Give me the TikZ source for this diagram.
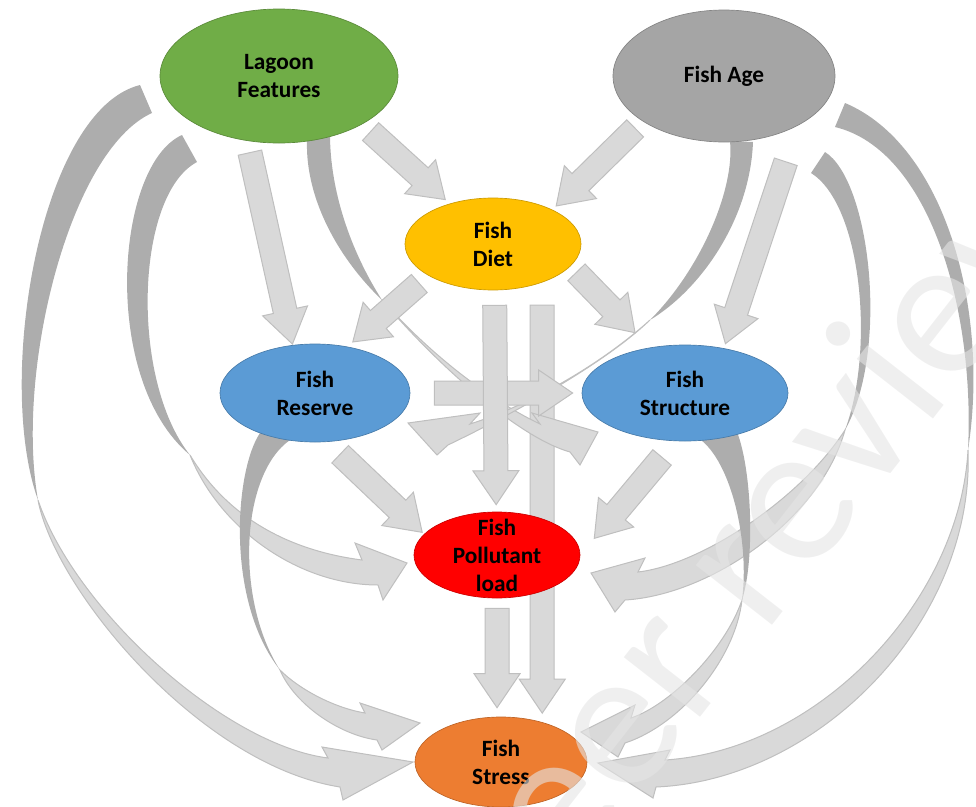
\documentclass[tikz,border=0pt]{standalone}
\usepackage{fontspec}
\setmainfont{Carlito}
\usetikzlibrary{calc, shapes.geometric, backgrounds}

\definecolor{lagoonGreen} {HTML}{70AD47}
\definecolor{ageGray}     {HTML}{A5A5A5}
\definecolor{dietYellow}  {HTML}{FFC000}
\definecolor{fishBlue}    {HTML}{5B9BD5}
\definecolor{loadRed}     {HTML}{FF0000}
\definecolor{stressOrange}{HTML}{ED7D31}
\definecolor{arrowFill}   {HTML}{D9D9D9}
\definecolor{arrowLine}   {HTML}{BFBFBF}
\definecolor{arrowBack}   {HTML}{ADADAD}

% straight block arrow from tail #1 to tip #2
\newcommand\blockarr[2]{%
  \coordinate (ba-s) at #1;
  \coordinate (ba-e) at #2;
  \coordinate (ba-h) at ($(ba-e)!25.5pt!(ba-s)$);
  \filldraw[blockarrow] ($(ba-s)!9pt!90:(ba-e)$) -- ($(ba-h)!9pt!-90:(ba-s)$)
    -- ($(ba-h)!17.25pt!-90:(ba-s)$) -- (ba-e) -- ($(ba-h)!17.25pt!90:(ba-s)$)
    -- ($(ba-h)!9pt!90:(ba-s)$) -- ($(ba-s)!9pt!-90:(ba-e)$) -- cycle;
}

\begin{document}
\begin{tikzpicture}[x=0.75pt, y=-0.75pt,
    varnode/.style={ellipse, draw=#1!80!black, fill=#1, line width=0.5pt,
      inner sep=0pt, align=center, font=\bfseries\fontsize{17.5}{21}\selectfont},
    blockarrow/.style={fill=arrowFill, draw=arrowLine, line width=0.75pt},
    frontface/.style={fill=arrowFill, draw=arrowLine, line width=0.75pt},
    backface/.style={fill=arrowBack}]
  \useasboundingbox (0,0) rectangle (976,807);

  % factors
  \node[varnode=lagoonGreen, minimum width=178.5pt, minimum height=100.5pt] (lag) at (279,76) {Lagoon\\Features};
  \node[varnode=ageGray, minimum width=166.5pt, minimum height=99pt] (age) at (724,76) {Fish Age};
  \node[varnode=dietYellow, minimum width=132pt, minimum height=69pt] (diet) at (493,244) {Fish\\Diet};
  \node[varnode=fishBlue, minimum width=142.5pt, minimum height=73.5pt] (res) at (315,393) {Fish\\Reserve};
  \node[varnode=fishBlue, minimum width=154.5pt, minimum height=72pt] (str) at (685,393) {Fish\\Structure};
  \node[varnode=loadRed, minimum width=124.5pt, minimum height=64.5pt, inner ysep=-9pt] (pol) at (497,555) {Fish\\Pollutant\\load};
  \node[varnode=stressOrange, minimum width=129pt, minimum height=67.5pt] (stress) at (501,762) {Fish\\Stress};

  \begin{pgfonlayer}{background}
    % diet -> stress, long shaft
    \blockarr{($(diet.-38)!17pt!(stress.44.8)$)}{($(stress.44.8)!6.75pt!(diet.-38)$)}

    % curved arrows, left side
    % lagoon -> stress
    \fill[backface] (140,85) .. controls (40,110) and (-5,380) .. (38,500)
      .. controls (15,370) and (70,150) .. (152,113) -- cycle;
    \filldraw[frontface] (38,500) .. controls (55,590) and (200,765) .. (340,787)
      -- (343,800) -- (413,762) -- (322,747) -- (328,758)
      .. controls (225,745) and (75,610) .. (38,500) -- cycle;
    % lagoon -> pollutant
    \fill[backface] (182,135) .. controls (115,165) and (100,380) .. (190,455)
      .. controls (130,380) and (135,195) .. (197,162) -- cycle;
    \filldraw[frontface] (190,455) .. controls (220,530) and (300,585) .. (378,585)
      -- (383,600) -- (407,563) -- (355,543) -- (362,560)
      .. controls (300,552) and (232,525) .. (190,455) -- cycle;
    % reserve -> stress
    \fill[backface] (260,433) .. controls (235,470) and (225,600) .. (280,670)
      .. controls (235,600) and (240,475) .. (290,440) -- cycle;
    \filldraw[frontface] (280,670) .. controls (300,690) and (335,708) .. (365,713)
      -- (360,703) -- (420,723) -- (382,750) -- (377,740)
      .. controls (340,735) and (295,705) .. (280,670) -- cycle;

    % curved arrows, right side
    % age -> stress
    \fill[backface] (845,103) .. controls (945,145) and (990,310) .. (968,450)
      .. controls (975,310) and (930,150) .. (835,127) -- cycle;
    \filldraw[frontface] (968,450) .. controls (975,620) and (820,780) .. (656,787)
      -- (653,798) -- (598,763) -- (670,750) -- (665,760)
      .. controls (820,750) and (960,600) .. (968,450) -- cycle;
    % age -> pollutant
    \fill[backface] (825,152) .. controls (870,180) and (890,350) .. (845,430)
      .. controls (875,350) and (862,205) .. (811,173) -- cycle;
    \filldraw[frontface] (845,430) .. controls (800,500) and (700,565) .. (638,572)
      -- (645,558) -- (591,573) -- (615,612) -- (625,600)
      .. controls (710,595) and (820,520) .. (845,430) -- cycle;
    % structure -> stress
    \fill[backface] (695,436) .. controls (730,455) and (750,540) .. (742,600)
      .. controls (755,560) and (752,470) .. (737,432) -- cycle;
    \filldraw[frontface] (742,600) .. controls (725,650) and (670,705) .. (631,718)
      -- (635,705) -- (581,732) -- (618,757) -- (625,743)
      .. controls (680,725) and (735,660) .. (742,600) -- cycle;

    % crossing curved arrows
    % lagoon -> structure
    \fill[backface] (307,140) .. controls (305,200) and (340,260) .. (382,300)
      .. controls (350,250) and (330,190) .. (330,134) -- cycle;
    \filldraw[frontface] (382,300) .. controls (440,365) and (500,405) .. (540,424)
      -- (532,413) -- (598,432) -- (580,465) -- (570,452)
      .. controls (520,438) and (440,368) .. (382,300) -- cycle;
    % age -> reserve
    \fill[backface] (730,141) .. controls (735,190) and (700,270) .. (650,320)
      .. controls (700,290) and (750,220) .. (753,142) -- cycle;
    \filldraw[frontface] (650,320) .. controls (600,365) and (530,405) .. (470,424)
      -- (480,413) -- (408,423) -- (437,455) -- (448,445)
      .. controls (500,420) and (600,368) .. (650,320) -- cycle;

    % straight block arrows
    \blockarr{($(res.east)!18pt!(str.west)$)}{($(str.west)!6.75pt!(res.east)$)}
    \blockarr{($(diet.-88.7)!11.25pt!(pol.91.4)$)}{($(pol.91.4)!5.25pt!(diet.-88.7)$)}
    \blockarr{($(lag.-30.3)!8.3pt!(diet.137.5)$)}{($(diet.137.5)!4.5pt!(lag.-30.3)$)}
    \blockarr{($(lag.-116.8)!9pt!(res.115.6)$)}{($(res.115.6)!0.75pt!(lag.-116.8)$)}
    \blockarr{($(age.-151.3)!7.7pt!(diet.30)$)}{($(diet.30)!4pt!(age.-151.3)$)}
    \blockarr{($(age.-34.8)!28.5pt!(str.49)$)}{($(str.49)!3.6pt!(age.-34.8)$)}
    \blockarr{($(diet.-154.5)!9pt!(res.55.7)$)}{($(res.55.7)!5.3pt!(diet.-154.5)$)}
    \blockarr{($(diet.-16)!6.4pt!(str.128.3)$)}{($(str.128.3)!15.6pt!(diet.-16)$)}
    \blockarr{($(res.-76)!13.4pt!(pol.164.5)$)}{($(pol.164.5)!1.9pt!(res.-76)$)}
    \blockarr{($(str.-101.1)!15.9pt!(pol.0)$)}{($(pol.0)!16.3pt!(str.-101.1)$)}
    \blockarr{($(pol.south)!7.5pt!(stress.95)$)}{($(stress.95)!6.75pt!(pol.south)$)}
  \end{pgfonlayer}

  % watermark
  \begin{scope}
    \clip (0,0) rectangle (976,807);
    \node[anchor=base west, rotate=52, inner sep=0pt, text=black!10, opacity=0.6,
      font=\fontsize{152}{152}\selectfont] (mark) at (506,966) {Peer review};
  \end{scope}
\end{tikzpicture}
\end{document}
